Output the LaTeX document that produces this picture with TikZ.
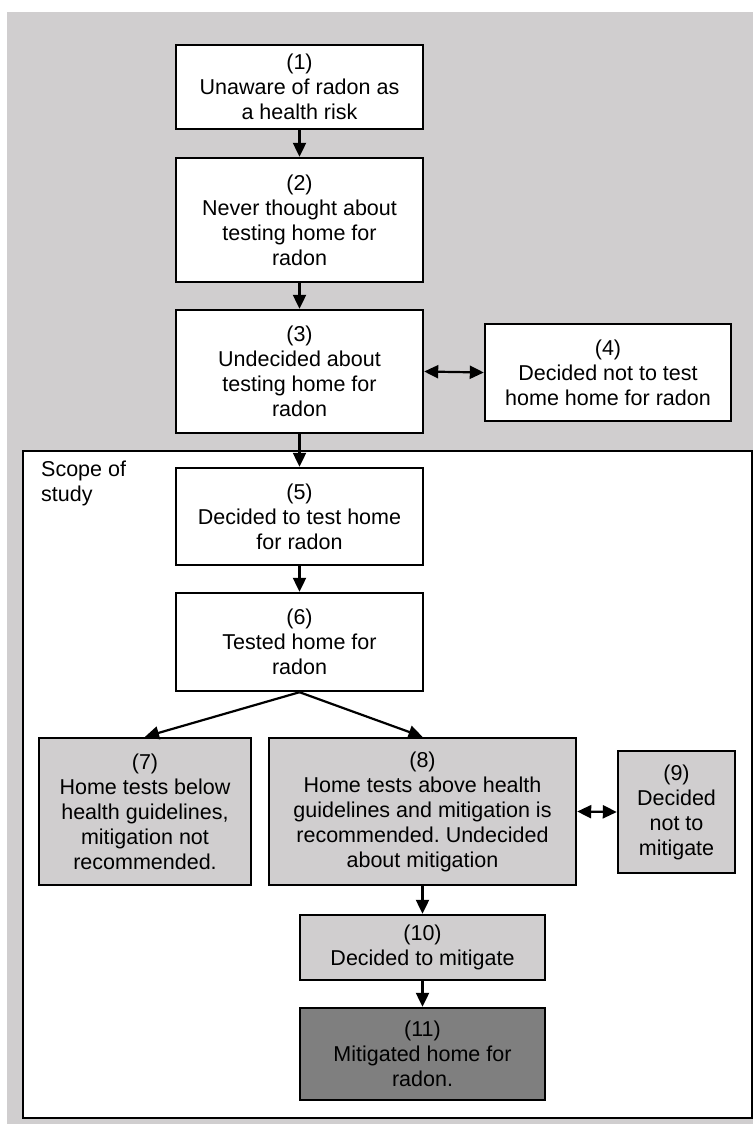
\documentclass[tikz,border=0pt]{standalone}
\usepackage{fontspec}
\setmainfont{Liberation Sans}
\frenchspacing
\usetikzlibrary{arrows.meta}
\definecolor{bggray}{RGB}{208,206,207}
\definecolor{boxgray}{RGB}{208,206,207}
\definecolor{darkbox}{RGB}{127,127,127}
\begin{document}
\begin{tikzpicture}[x=1pt,y=-1pt,
  box/.style={draw=black, line width=2.4pt, fill=white, rectangle, inner sep=2pt,
    align=center, font=\fontsize{21.5}{25}\selectfont},
  graybox/.style={box, fill=boxgray},
  darkgraybox/.style={box, fill=darkbox},
  arr/.style={line width=2.2pt, -{Triangle[length=14pt,width=13pt]}},
  darr/.style={line width=2.2pt, {Triangle[length=14pt,width=13pt]}-{Triangle[length=14pt,width=13pt]}}
]
\useasboundingbox (0,0) rectangle (753,1126);
\fill[bggray] (7,12) rectangle (753,1124);
\draw[line width=2.8pt, fill=white] (23,451) rectangle (752,1118);
\node[anchor=north west, align=left, inner sep=0pt, font=\fontsize{21.5}{25}\selectfont] (scope) at (41,461) {Scope of\\study};

\node[box, minimum width=247pt, minimum height=84pt] (n1) at (299.5,87) {(1)\\Unaware of radon as\\a health risk};
\node[box, minimum width=247pt, minimum height=124pt] (n2) at (299.5,220) {(2)\\Never thought about\\testing home for\\radon};
\node[box, minimum width=247pt, minimum height=123pt] (n3) at (299.5,371.5) {(3)\\Undecided about\\testing home for\\radon};
\node[box, minimum width=246pt, minimum height=97pt] (n4) at (608,372.5) {(4)\\Decided not to test\\home home for radon};
\node[box, minimum width=247pt, minimum height=97pt] (n5) at (299.5,516.5) {(5)\\Decided to test home\\for radon};
\node[box, minimum width=247pt, minimum height=98pt] (n6) at (299.5,642) {(6)\\Tested home for\\radon};
\node[graybox, minimum width=212pt, minimum height=147pt] (n7) at (145,811.5) {(7)\\Home tests below\\health guidelines,\\mitigation not\\recommended.};
\node[graybox, minimum width=307pt, minimum height=147pt] (n8) at (422.5,811.5) {(8)\\Home tests above health\\guidelines and mitigation is\\recommended. Undecided\\about mitigation};
\node[graybox, minimum width=117pt, minimum height=122pt] (n9) at (676.5,812) {(9)\\Decided\\not to\\mitigate};
\node[graybox, minimum width=245pt, minimum height=65pt] (n10) at (422.5,947.5) {(10)\\Decided to mitigate};
\node[darkgraybox, minimum width=245pt, minimum height=92pt] (n11) at (422.5,1054) {(11)\\Mitigated home for\\radon.};

\draw[arr] (n1.south) -- (n2.north);
\draw[arr] (n2.south) -- (n3.north);
\draw[darr] (n3.east) -- (n4.west);
\draw[arr] (n3.south) -- (n5.north);
\draw[arr] (n5.south) -- (n6.north);
\draw[arr] (n6.south) -- (n7.north);
\draw[arr] (n6.south) -- (n8.north);
\draw[darr] (n8.east) -- (n9.west);
\draw[arr] (n8.south) -- (n10.north);
\draw[arr] (n10.south) -- (n11.north);
\end{tikzpicture}
\end{document}
